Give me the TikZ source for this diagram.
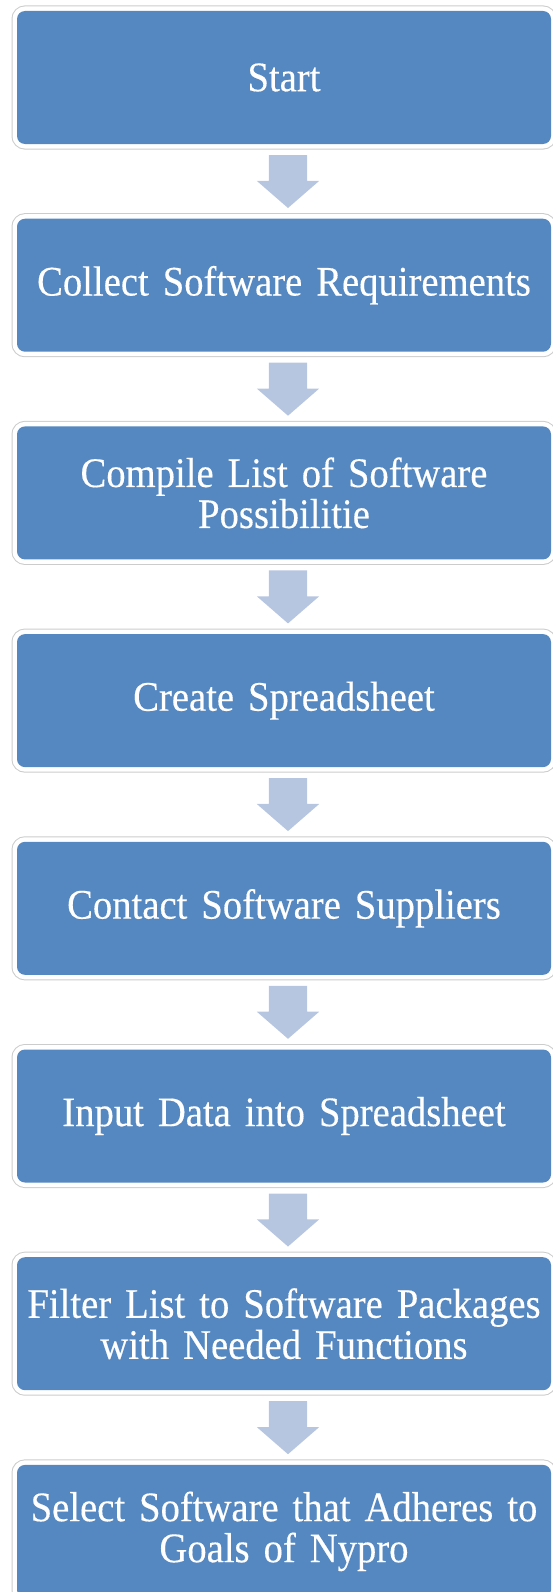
\documentclass[tikz,border=0pt]{standalone}
\usepackage{fontspec}
\setmainfont{Liberation Serif}[FakeStretch=0.92, FakeBold=0.3]
\usetikzlibrary{positioning,calc,shapes.arrows}
\definecolor{boxblue}{HTML}{5588C1}
\definecolor{arrowblue}{HTML}{B7C6E0}
\definecolor{rimgray}{HTML}{CCCCCC}

\begin{document}
\begin{tikzpicture}[x=1pt, y=-1pt, node distance=74.7pt,
    stepbox/.style={rectangle, rounded corners=8pt, minimum width=534pt,
      minimum height=133pt, text width=520pt, align=center, inner sep=0pt,
      outer sep=0pt, text=white, font=\fontsize{42}{41}\selectfont,
      preaction={draw=rimgray, line width=11pt},
      preaction={draw=white, line width=9pt}, fill=boxblue},
    downarrow/.style={single arrow, rotate=-90, fill=arrowblue,
      inner xsep=0pt, inner ysep=19pt, outer sep=0pt, minimum height=53pt,
      single arrow head extend=12pt, single arrow tip angle=98}]
      \useasboundingbox (0,0) rectangle (553,1592);
      \clip (0,0) rectangle (553,1592);
      \node (start) [stepbox, anchor=north west] at (17,11) {Start};
      \node (collect) [stepbox, below=of start] {Collect Software Requirements};
      \node (compile) [stepbox, below=of collect] {Compile List of Software\\Possibilitie};
      \node (create) [stepbox, below=of compile] {Create Spreadsheet};
      \node (contact) [stepbox, below=of create] {Contact Software Suppliers};
      \node (input) [stepbox, below=of contact] {Input Data into Spreadsheet};
      \node (filter) [stepbox, below=of input] {Filter List to Software Packages\\with Needed Functions};
      \node (select) [stepbox, below=of filter] {Select Software that Adheres to\\Goals of Nypro};
      % block arrows between the steps
      \foreach \a/\b in {start/collect, collect/compile, compile/create, create/contact,
          contact/input, input/filter, filter/select}
        \node (to-\b) [downarrow, anchor=tail] at ($(\a.south)+(4,11)$) {};
\end{tikzpicture}
\end{document}
